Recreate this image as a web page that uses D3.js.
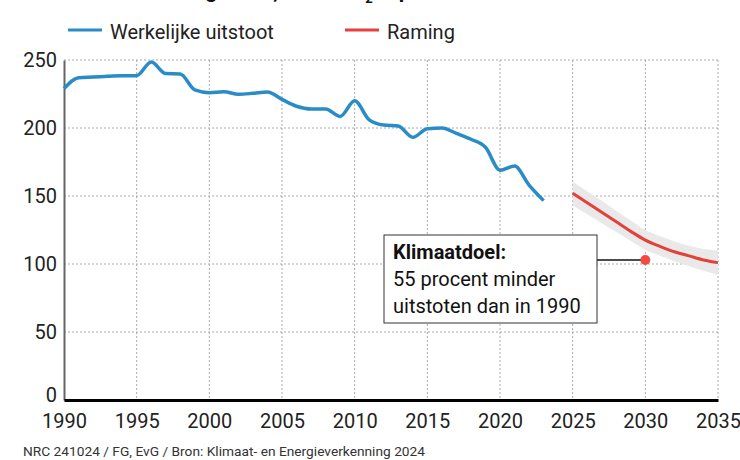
<!DOCTYPE html>
<html>
<head>
<meta charset="utf-8">
<script src="https://cdn.jsdelivr.net/npm/d3@7"></script>
<style>
  body { margin: 0; background: #fff; }
  svg { display: block; font-family: Roboto, "Noto Sans", sans-serif; }
</style>
</head>
<body>
<svg id="chart" width="740" height="460"></svg>
<script>
var svg = d3.select("#chart")

// actual emissions (Mt CO2-eq)
var years = [1990,1991,1992,1993,1994,1995,1996,1997,1998,1999,2000,2001,2002,2003,2004,2005,2006,2007,2008,2009,2010,2011,2012,2013,2014,2015,2016,2017,2018,2019,2020,2021,2022,2023];
var actual = [229,237,237.5,238,238.5,238.5,248.5,240,239.7,228,226,226.7,224.8,225.5,226.5,221,216,214,214,208.5,220,206,202.2,201.5,193.2,199.5,200,196,191.7,185.8,169,172,158,146.6];

// projection with uncertainty band
var projYears = [2025,2026,2027,2028,2029,2030,2031,2032,2033,2034,2035];
var projection = [152,145,138,131,124,117.6,113,109,106,103,101];
var projLow = [143,136.5,130,123.5,117,110.5,106,102,98.5,95,92];
var projHigh = [160.5,153.5,146.5,139,132,125,120.5,116.5,113.5,111,110];

var targetYear = 2030, targetValue = 103;
var xTicks = [1990,1995,2000,2005,2010,2015,2020,2025,2030,2035];
var yTicks = [0,50,100,150,200,250];

var x = d3.scaleLinear().domain([1990, 2035]).range([64, 718]);
var y = d3.scaleLinear().domain([0, 250]).range([400, 60]);

// title, mostly outside the picture
var title = svg.append("text")
    .attr("x", 44).attr("y", -2)
    .style("font-size", "21px").style("font-weight", "bold").style("fill", "#111")
title.append("tspan").text("Uitstoot broeikasgassen, in Mt CO")
title.append("tspan").attr("dy", 5).style("font-size", "13px").text("2")
title.append("tspan").attr("dy", -5).text("-eq")

// legend
var legendKeys = ["Werkelijke uitstoot", "Raming"];
var legendColours = ["#2a8cc6", "#e3413a"];
var legendX = [68, 345];
svg.selectAll("legline").data(legendKeys).enter().append("line")
    .attr("x1", function(d,i){ return legendX[i] })
    .attr("x2", function(d,i){ return legendX[i] + 34 })
    .attr("y1", 30).attr("y2", 30)
    .style("stroke", function(d,i){ return legendColours[i] })
    .style("stroke-width", 3)
svg.selectAll("legtext").data(legendKeys).enter().append("text")
    .attr("x", function(d,i){ return legendX[i] + 42 })
    .attr("y", 39)
    .style("font-size", "20px").style("fill", "#222")
    .text(function(d){ return d })

// grid
svg.selectAll("vgrid").data(xTicks.slice(1)).enter().append("line")
    .attr("x1", function(d){ return x(d) }).attr("x2", function(d){ return x(d) })
    .attr("y1", y(250)).attr("y2", y(0))
    .style("stroke", "#aaa").style("stroke-width", 1).style("stroke-dasharray", "2,2")
svg.selectAll("hgrid").data(yTicks.slice(1)).enter().append("line")
    .attr("x1", x(1990)).attr("x2", x(2035))
    .attr("y1", function(d){ return y(d) }).attr("y2", function(d){ return y(d) })
    .style("stroke", "#aaa").style("stroke-width", 1).style("stroke-dasharray", "2,2")

// y axis
var yAxis = svg.append("g")
    .attr("transform", "translate(" + x(1990) + ",0)")
    .call(d3.axisLeft(y).tickValues(yTicks).tickSize(0).tickPadding(7))
yAxis.select(".domain").style("stroke", "#666").style("stroke-width", 2)
yAxis.selectAll("text").style("font-size", "20px").style("fill", "#222").style("font-family", "Roboto, sans-serif")
yAxis.selectAll(".tick").filter(function(d){ return d == 0 }).select("text").attr("y", -5)

// x axis
var xAxis = svg.append("g")
    .attr("transform", "translate(0," + y(0) + ")")
    .call(d3.axisBottom(x).tickValues(xTicks).tickFormat(d3.format("d")).tickSize(0).tickPadding(14))
xAxis.select(".domain").style("stroke", "#000").style("stroke-width", 3)
xAxis.selectAll("text").style("font-size", "20px").style("fill", "#222").style("font-family", "Roboto, sans-serif")

// uncertainty band
var area = d3.area()
    .x(function(d,i){ return x(projYears[i]) })
    .y0(function(d,i){ return y(projLow[i]) })
    .y1(function(d,i){ return y(projHigh[i]) })
    .curve(d3.curveMonotoneX)
svg.append("path").datum(projYears).attr("d", area).style("fill", "#e9e9e9")

var line = d3.line()
    .x(function(d){ return x(d[0]) })
    .y(function(d){ return y(d[1]) })
    .curve(d3.curveMonotoneX)

svg.append("path")
    .datum(years.map(function(d,i){ return [d, actual[i]] }))
    .attr("d", line)
    .style("fill", "none").style("stroke", "#2a8cc6").style("stroke-width", 3.5)
    .style("stroke-linejoin", "round")

svg.append("path")
    .datum(projYears.map(function(d,i){ return [d, projection[i]] }))
    .attr("d", line)
    .style("fill", "none").style("stroke", "#e3413a").style("stroke-width", 3)

// climate target annotation
var boxLeft = 384, boxRight = 597, boxTop = 235, boxBottom = 323;
svg.append("line")
    .attr("x1", boxRight).attr("x2", x(targetYear))
    .attr("y1", y(targetValue)).attr("y2", y(targetValue))
    .style("stroke", "#111").style("stroke-width", 1.5)
svg.append("circle")
    .attr("cx", x(targetYear)).attr("cy", y(targetValue)).attr("r", 5)
    .style("fill", "#ef4b43")
svg.append("rect")
    .attr("x", boxLeft).attr("y", boxTop)
    .attr("width", boxRight - boxLeft).attr("height", boxBottom - boxTop)
    .style("fill", "#fff").style("stroke", "#333").style("stroke-width", 1)

var noteLines = ["Klimaatdoel:", "55 procent minder", "uitstoten dan in 1990"];
svg.selectAll("note").data(noteLines).enter().append("text")
    .attr("x", boxLeft + 9)
    .attr("y", function(d,i){ return 259 + i*27 })
    .style("font-size", "20px")
    .style("font-weight", function(d,i){ return i == 0 ? "bold" : "normal" })
    .style("fill", "#111")
    .text(function(d){ return d })

// source line
svg.append("text")
    .attr("x", 23).attr("y", 456)
    .attr("textLength", 402).attr("lengthAdjust", "spacingAndGlyphs")
    .style("font-size", "13px").style("fill", "#333")
    .text("NRC 241024 / FG, EvG / Bron: Klimaat- en Energieverkenning 2024")
</script>
</body>
</html>
